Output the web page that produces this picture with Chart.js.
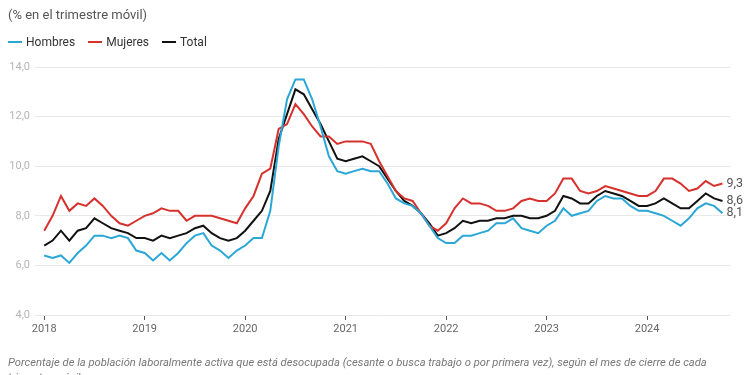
<!DOCTYPE html>
<html lang="es">
<head>
<meta charset="UTF-8">
<title>Desocupación trimestre móvil</title>
<style>
    body { margin: 0; background: #fff; font-family: Roboto, Arial, sans-serif; }
    .wrap { position: relative; width: 750px; height: 375px; overflow: hidden; }
    canvas { position: absolute; left: 0; top: 0; }
    .title { position: absolute; left: 8px; top: 7px; font-size: 13px; color: #555; }
    .legend { position: absolute; left: 8px; top: 35px; font-size: 12px; color: #333; }
    .legend span.item { margin-right: 10px; }
    .legend i { display: inline-block; width: 14px; height: 2px; vertical-align: middle; margin-right: 4px; position: relative; top: -1px; }
    .note { position: absolute; left: 8px; top: 355px; width: 725px; font-size: 11.2px; font-style: italic; color: #777; line-height: 15px; }
</style>
</head>
<body>
<div class="wrap">
    <canvas id="chart" width="750" height="375"></canvas>
    <div class="title">(% en el trimestre móvil)</div>
    <div class="legend">
        <span class="item"><i style="background:#2aa7d6"></i>Hombres</span>
        <span class="item"><i style="background:#d7312e"></i>Mujeres</span>
        <span class="item"><i style="background:#111"></i>Total</span>
    </div>
    <div class="note">Porcentaje de la población laboralmente activa que está desocupada (cesante o busca trabajo o por primera vez), según el mes de cierre de cada trimestre móvil</div>
</div>

<script src="https://cdn.jsdelivr.net/npm/chart.js"></script>
<script>
    // Monthly values, Jan 2018 - Oct 2024
    const years = ['2018', '2019', '2020', '2021', '2022', '2023', '2024'];
    const yTicks = [4, 6, 8, 10, 12, 14];

    const hombres = [
        6.4, 6.3, 6.4, 6.1, 6.5, 6.8, 7.2, 7.2, 7.1, 7.2, 7.1, 6.6,
        6.5, 6.2, 6.5, 6.2, 6.5, 6.9, 7.2, 7.3, 6.8, 6.6, 6.3, 6.6,
        6.8, 7.1, 7.1, 8.2, 10.8, 12.7, 13.5, 13.5, 12.7, 11.6, 10.4, 9.8,
        9.7, 9.8, 9.9, 9.8, 9.8, 9.3, 8.7, 8.5, 8.4, 8.1, 7.6, 7.1,
        6.9, 6.9, 7.2, 7.2, 7.3, 7.4, 7.7, 7.7, 7.9, 7.5, 7.4, 7.3,
        7.6, 7.8, 8.3, 8.0, 8.1, 8.2, 8.6, 8.8, 8.7, 8.7, 8.4, 8.2,
        8.2, 8.1, 8.0, 7.8, 7.6, 7.9, 8.3, 8.5, 8.4, 8.1
    ];
    const mujeres = [
        7.4, 8.0, 8.8, 8.2, 8.5, 8.4, 8.7, 8.4, 8.0, 7.7, 7.6, 7.8,
        8.0, 8.1, 8.3, 8.2, 8.2, 7.8, 8.0, 8.0, 8.0, 7.9, 7.8, 7.7,
        8.3, 8.8, 9.7, 9.9, 11.5, 11.7, 12.5, 12.1, 11.6, 11.2, 11.2, 10.9,
        11.0, 11.0, 11.0, 10.9, 10.2, 9.6, 9.0, 8.7, 8.6, 8.1, 7.6, 7.4,
        7.7, 8.3, 8.7, 8.5, 8.5, 8.4, 8.2, 8.2, 8.3, 8.6, 8.7, 8.6,
        8.6, 8.9, 9.5, 9.5, 9.0, 8.9, 9.0, 9.2, 9.1, 9.0, 8.9, 8.8,
        8.8, 9.0, 9.5, 9.5, 9.3, 9.0, 9.1, 9.4, 9.2, 9.3
    ];
    const total = [
        6.8, 7.0, 7.4, 7.0, 7.4, 7.5, 7.9, 7.7, 7.5, 7.4, 7.3, 7.1,
        7.1, 7.0, 7.2, 7.1, 7.2, 7.3, 7.5, 7.6, 7.3, 7.1, 7.0, 7.1,
        7.4, 7.8, 8.2, 9.0, 11.1, 12.1, 13.1, 12.9, 12.3, 11.7, 11.0, 10.3,
        10.2, 10.3, 10.4, 10.2, 10.0, 9.5, 9.0, 8.6, 8.4, 8.1, 7.7, 7.2,
        7.3, 7.5, 7.8, 7.7, 7.8, 7.8, 7.9, 7.9, 8.0, 8.0, 7.9, 7.9,
        8.0, 8.2, 8.8, 8.7, 8.5, 8.5, 8.8, 9.0, 8.9, 8.8, 8.6, 8.4,
        8.4, 8.5, 8.7, 8.5, 8.3, 8.3, 8.6, 8.9, 8.7, 8.6
    ];

    const toPoints = arr => arr.map((v, i) => ({ x: i, y: v }));
    const fmt = v => v.toFixed(1).replace('.', ',');

    // value labels at the end of each line
    const endLabels = {
        id: 'endLabels',
        afterDatasetsDraw(chart) {
            const ctx = chart.ctx;
            ctx.save();
            ctx.font = '12.5px Roboto, Arial, sans-serif';
            ctx.fillStyle = '#555';
            ctx.textBaseline = 'middle';
            chart.data.datasets.forEach((ds, i) => {
                const meta = chart.getDatasetMeta(i);
                const last = meta.data[meta.data.length - 1];
                const val = ds.data[ds.data.length - 1].y;
                ctx.fillText(fmt(val), last.x + 4, last.y);
            });
            ctx.restore();
        }
    };

    const ctx = document.getElementById('chart').getContext('2d');
    new Chart(ctx, {
        type: 'line',
        data: {
            datasets: [
                { label: 'Hombres', data: toPoints(hombres), borderColor: '#2aa7d6' },
                { label: 'Mujeres', data: toPoints(mujeres), borderColor: '#d7312e' },
                { label: 'Total', data: toPoints(total), borderColor: '#111' }
            ]
        },
        options: {
            responsive: false,
            animation: false,
            layout: { padding: { top: 67, right: 20, bottom: 25, left: 0 } },
            elements: {
                line: { borderWidth: 2, tension: 0 },
                point: { radius: 0 }
            },
            plugins: {
                legend: { display: false },
                tooltip: { enabled: false }
            },
            scales: {
                x: {
                    type: 'linear',
                    min: -1.1,
                    max: 81.9,
                    afterBuildTicks: scale => {
                        scale.ticks = years.map((y, k) => ({ value: k * 12 }));
                    },
                    afterFit: scale => { scale.height = 35; },
                    ticks: {
                        callback: v => years[v / 12],
                        color: '#666',
                        font: { family: 'Roboto', size: 11 },
                        padding: 3,
                        maxRotation: 0
                    },
                    grid: { drawOnChartArea: false, drawTicks: true, tickLength: 5, color: '#555' },
                    border: { display: false }
                },
                y: {
                    min: 4,
                    max: 14,
                    afterBuildTicks: scale => {
                        scale.ticks = yTicks.map(v => ({ value: v }));
                    },
                    afterFit: scale => { scale.width = 35; },
                    ticks: {
                        callback: v => fmt(v),
                        color: '#b5b5b5',
                        font: { family: 'Roboto', size: 11 },
                        padding: 5
                    },
                    grid: { color: '#e9e9e9', drawTicks: false },
                    border: { display: false }
                }
            }
        },
        plugins: [endLabels]
    });
</script>
</body>
</html>
